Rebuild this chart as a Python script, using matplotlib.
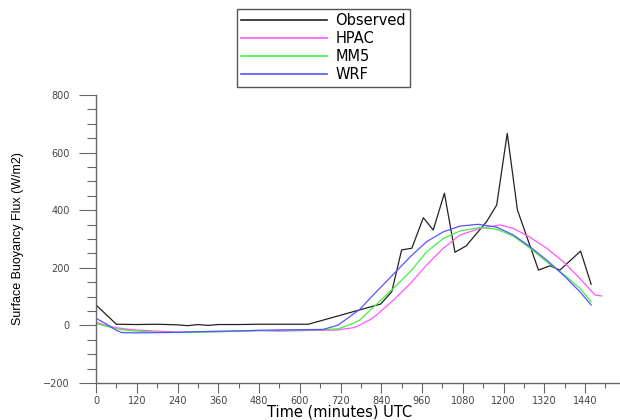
import matplotlib
matplotlib.use("Agg")
import matplotlib.pyplot as plt
from matplotlib.ticker import MultipleLocator

# observed surface buoyancy flux (W/m2) vs time (minutes UTC)
obs_t = [0, 60, 120, 180, 240, 270, 300, 330, 360, 420, 480, 540, 600, 625,
         838, 871, 900, 930, 964, 993, 1026, 1057, 1090, 1150, 1180, 1211,
         1241, 1303, 1337, 1366, 1427, 1458]
obs_v = [71, 4, 3, 4, 2, -1, 3, 0, 3, 3, 4, 4, 4, 4,
         74, 117, 262, 268, 374, 331, 459, 254, 276, 360, 418, 667,
         401, 192, 207, 192, 258, 143]

# model runs
hpac_t = [0, 30, 60, 90, 120, 180, 240, 300, 360, 420, 480, 540, 600, 660,
          709, 758, 777, 807, 826, 876, 926, 974, 1023, 1072, 1131, 1190,
          1229, 1278, 1327, 1376, 1425, 1469, 1489]
hpac_v = [10, 0, -8, -13, -16, -20, -23, -22, -22, -20, -18, -20, -18, -17,
          -16, -8, 1, 20, 36, 88, 146, 210, 268, 314, 337, 349,
          337, 306, 268, 221, 163, 106, 102]

mm5_t = [0, 30, 60, 90, 120, 180, 240, 300, 360, 420, 480, 540, 600, 660,
         713, 758, 777, 807, 876, 926, 974, 1023, 1072, 1131, 1180, 1229,
         1278, 1327, 1376, 1425, 1458]
mm5_v = [7, -3, -12, -17, -20, -24, -25, -24, -22, -20, -18, -17, -16, -15,
         -12, 7, 19, 52, 129, 187, 256, 302, 328, 340, 334, 310,
         268, 221, 178, 129, 82]

wrf_t = [0, 30, 60, 75, 120, 180, 240, 300, 360, 420, 480, 540, 600, 669,
         713, 777, 807, 876, 926, 974, 1023, 1072, 1126, 1180, 1229, 1278,
         1327, 1376, 1425, 1458]
wrf_v = [25, 5, -17, -25, -26, -25, -24, -22, -20, -19, -17, -16, -15, -14,
         1, 56, 94, 178, 239, 291, 325, 345, 351, 341, 314, 273,
         227, 175, 117, 71]

W, H = 620, 420
fig = plt.figure(figsize=(W / 100, H / 100), dpi=100)
ax = fig.add_axes([96 / W, 1 - 383 / H, 1 - 96 / W, (383 - 95) / H])

lw = 0.9
l1, = ax.plot(obs_t, obs_v, color="#222222", lw=lw)
l2, = ax.plot(hpac_t, hpac_v, color="#ff55ff", lw=lw)
l3, = ax.plot(mm5_t, mm5_v, color="#44ee44", lw=lw)
l4, = ax.plot(wrf_t, wrf_v, color="#5555ff", lw=lw)

ax.set_xlim(0, (W - 96) / (489 / 1440))
ax.set_ylim(-200, 800)

for s in ("top", "right"):
    ax.spines[s].set_visible(False)
for s in ("left", "bottom"):
    ax.spines[s].set_color("#666666")
    ax.spines[s].set_linewidth(1)

ax.xaxis.set_minor_locator(MultipleLocator(60))
ax.yaxis.set_major_locator(MultipleLocator(200))
ax.yaxis.set_minor_locator(MultipleLocator(50))
ax.set_xticks(range(0, 1441, 120))

ax.tick_params(axis="x", which="major", length=7.2, width=0.8, color="#666666",
               labelsize=7, labelcolor="#444444", pad=2)
ax.tick_params(axis="x", which="minor", length=3.6, width=0.8, color="#666666")
ax.tick_params(axis="y", which="major", length=12, width=0.8, color="#666666",
               labelsize=7, labelcolor="#444444", pad=7)
ax.tick_params(axis="y", which="minor", length=6.5, width=0.8, color="#666666")

ax.set_xlabel("Time (minutes) UTC", fontsize=10.5, family="DejaVu Sans",
              va="center")
ax.xaxis.set_label_coords((340 - 96) / (W - 96), -(412 - 383) / 288)
ax.set_ylabel("Surface Buoyancy Flux (W/m2)", fontsize=9,
              family=["Liberation Sans", "DejaVu Sans"])
ax.yaxis.set_label_coords(-(96 - 24) / (W - 96), 0.5)

leg = fig.legend([l1, l2, l3, l4], ["Observed", "HPAC", "MM5", "WRF"],
                 loc="upper left", bbox_to_anchor=(237 / W, 1 - 9 / H),
                 fontsize=10.5, frameon=True, fancybox=False, framealpha=1,
                 edgecolor="#555555", handlelength=5.9, handletextpad=0.55,
                 labelspacing=0.2, borderpad=0.3, borderaxespad=0)
leg.get_frame().set_linewidth(1)
for line in leg.get_lines():
    line.set_linewidth(1.2)

fig.savefig("out.png", dpi=100)
